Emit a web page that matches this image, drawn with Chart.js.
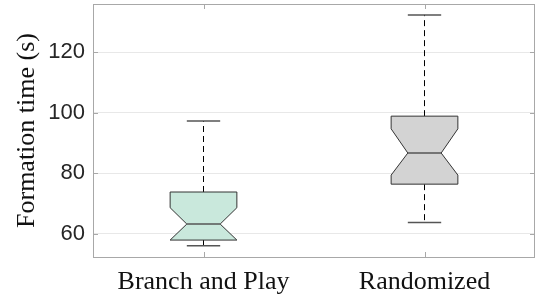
<!DOCTYPE html>
<html>
<head>
<meta charset="utf-8">
<script src="https://cdn.jsdelivr.net/npm/chart.js@4"></script>
<style>
html, body { margin: 0; padding: 0; background: #fff; }
#wrap { width: 536px; height: 297px; }
</style>
</head>
<body>
<div id="wrap"><canvas id="boxChart"></canvas></div>
<script>
const categories = ['Branch and Play', 'Randomized']
const whiskerLow = [56.0, 63.7]
const q1 = [57.9, 76.4]
const median = [63.2, 86.7]
const q3 = [73.8, 98.9]
const whiskerHigh = [97.3, 132.4]
const notchLow = [57.9, 79.4]
const notchHigh = [68.6, 94.7]
const yTicks = [60, 80, 100, 120]

const boxFill = ['#c9e8dc', '#d3d3d3']
const frameColor = '#a8a8a8'

const boxes = {
    id: 'boxes',
    afterDatasetsDraw (chart) {
        const {ctx, chartArea: area, scales: {x, y}} = chart
        const step = x.getPixelForValue(1) - x.getPixelForValue(0)
        const half = step * 0.151
        const inner = half * 0.5
        const cap = half * 0.5
        ctx.save()

        categories.forEach((c, i) => {
            const cx = x.getPixelForValue(i)
            const yq1 = y.getPixelForValue(q1[i])
            const yq3 = y.getPixelForValue(q3[i])
            const ym = y.getPixelForValue(median[i])
            const ynl = y.getPixelForValue(notchLow[i])
            const ynh = y.getPixelForValue(notchHigh[i])
            const ylo = y.getPixelForValue(whiskerLow[i])
            const yhi = y.getPixelForValue(whiskerHigh[i])

            // whiskers
            ctx.strokeStyle = '#000'
            ctx.lineWidth = 1
            ctx.setLineDash([6, 4])
            ctx.beginPath()
            ctx.moveTo(cx, yq3); ctx.lineTo(cx, yhi)
            ctx.moveTo(cx, yq1); ctx.lineTo(cx, ylo)
            ctx.stroke()
            ctx.setLineDash([])
            ctx.strokeStyle = '#555'
            ctx.lineWidth = 1.5
            ctx.beginPath()
            ctx.moveTo(cx - cap, yhi); ctx.lineTo(cx + cap, yhi)
            ctx.moveTo(cx - cap, ylo); ctx.lineTo(cx + cap, ylo)
            ctx.stroke()

            // notched box
            ctx.beginPath()
            ctx.moveTo(cx - half, yq3)
            ctx.lineTo(cx + half, yq3)
            ctx.lineTo(cx + half, ynh)
            ctx.lineTo(cx + inner, ym)
            ctx.lineTo(cx + half, ynl)
            ctx.lineTo(cx + half, yq1)
            ctx.lineTo(cx - half, yq1)
            ctx.lineTo(cx - half, ynl)
            ctx.lineTo(cx - inner, ym)
            ctx.lineTo(cx - half, ynh)
            ctx.closePath()
            ctx.fillStyle = boxFill[i]
            ctx.fill()
            ctx.strokeStyle = '#333'
            ctx.lineWidth = 1
            ctx.stroke()

            ctx.strokeStyle = '#555'
            ctx.lineWidth = 1.5
            ctx.beginPath()
            ctx.moveTo(cx - inner, ym); ctx.lineTo(cx + inner, ym)
            ctx.stroke()
        })

        // frame and inward ticks
        ctx.strokeStyle = frameColor
        ctx.lineWidth = 1
        ctx.strokeRect(area.left + 0.5, area.top + 0.5, area.right - area.left - 1, area.bottom - area.top)
        ctx.beginPath()
        yTicks.forEach(v => {
            const py = Math.round(y.getPixelForValue(v)) + 0.5
            ctx.moveTo(area.left, py); ctx.lineTo(area.left + 5, py)
            ctx.moveTo(area.right, py); ctx.lineTo(area.right - 5, py)
        })
        categories.forEach((c, i) => {
            const px = Math.round(x.getPixelForValue(i)) + 0.5
            ctx.moveTo(px, area.bottom); ctx.lineTo(px, area.bottom - 5)
            ctx.moveTo(px, area.top); ctx.lineTo(px, area.top + 5)
        })
        ctx.stroke()
        ctx.restore()
    }
}

const ctx = document.getElementById('boxChart')

new Chart(ctx, {
    type: 'bar',
    data: {
        labels: categories,
        datasets: [{
            data: categories.map((c, i) => [whiskerLow[i], whiskerHigh[i]]),
            backgroundColor: 'rgba(0,0,0,0)',
            borderWidth: 0
        }]
    },
    options: {
        responsive: true,
        maintainAspectRatio: false,
        animation: false,
        layout: { autoPadding: false, padding: { top: 4, right: 1, left: 0, bottom: 0 } },
        plugins: { legend: { display: false }, tooltip: { enabled: false } },
        scales: {
            x: {
                grid: { display: false, drawTicks: false },
                border: { display: false },
                ticks: {
                    color: '#111',
                    padding: 10,
                    font: { family: 'Liberation Serif', size: 26 }
                },
                afterFit (scale) {
                    scale.height = 40
                    scale.paddingLeft = 0
                    scale.paddingRight = 0
                }
            },
            y: {
                min: 52.3,
                max: 136,
                afterBuildTicks (scale) { scale.ticks = yTicks.map(v => ({ value: v })) },
                grid: { color: '#e8e8e8', drawTicks: false },
                border: { display: false },
                ticks: {
                    color: '#262626',
                    padding: 8,
                    font: { family: 'Liberation Sans', size: 22 }
                },
                title: {
                    display: true,
                    text: 'Formation time (s)',
                    color: '#111',
                    padding: { top: 12, bottom: 0 },
                    font: { family: 'Liberation Serif', size: 26 }
                },
                afterFit (scale) {
                    scale.width = 93
                    scale.paddingTop = 0
                    scale.paddingBottom = 0
                }
            }
        }
    },
    plugins: [boxes]
})
</script>
</body>
</html>
